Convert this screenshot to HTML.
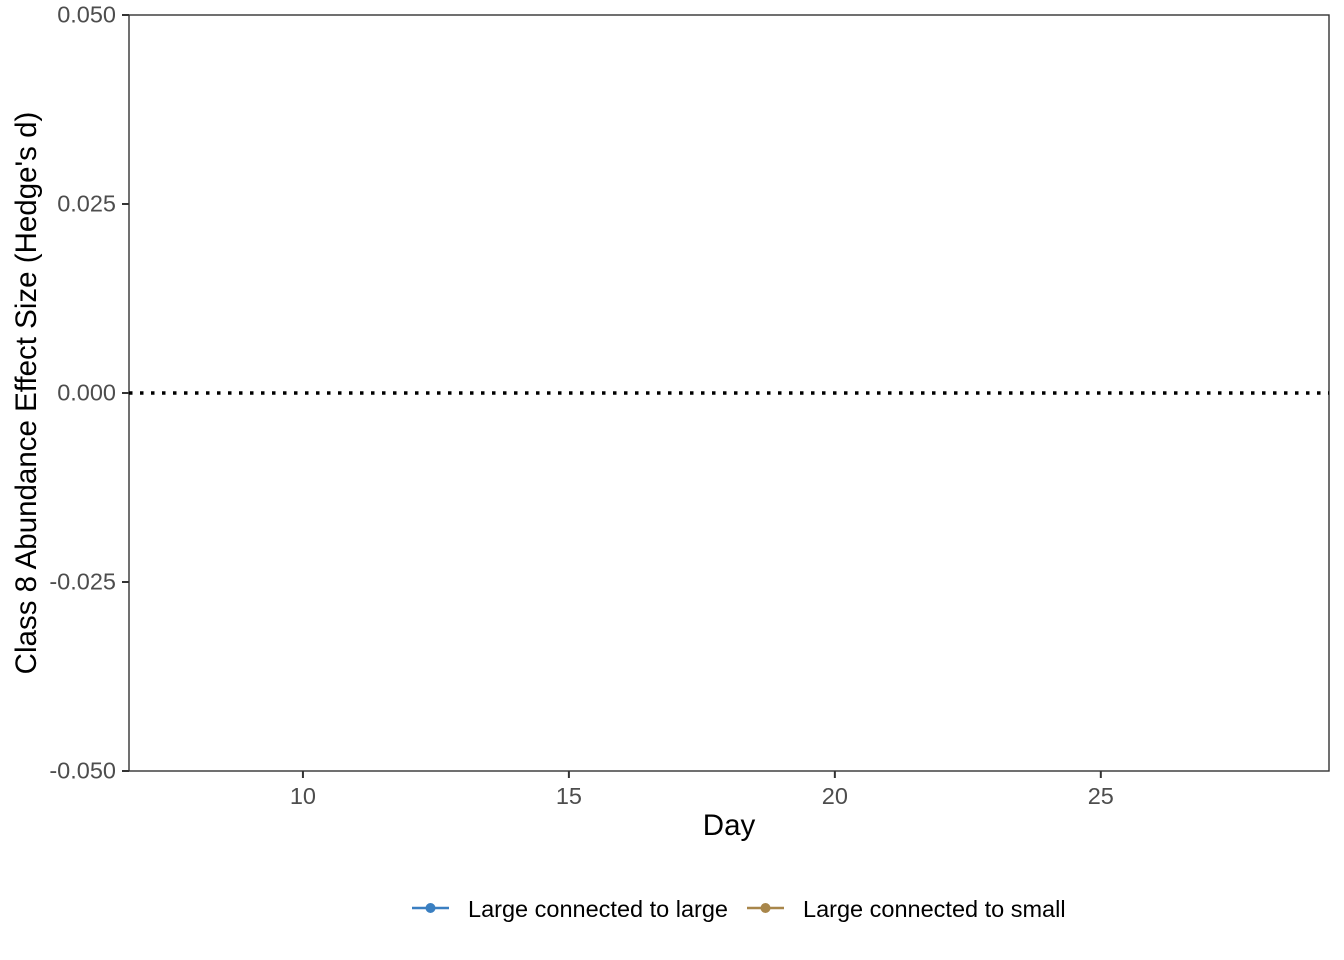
<!DOCTYPE html>
<html><head><meta charset="utf-8"><style>
html,body{margin:0;padding:0;background:#fff;}
svg{display:block;font-family:"Liberation Sans",Arial,sans-serif;}
</style></head><body>
<svg id="chart" width="1344" height="960" viewBox="0 0 1344 960">
<rect x="0" y="0" width="1344" height="960" fill="#fff"/>
<g id="plot"></g>
</svg>
<script>
const xTicks = [10, 15, 20, 25];
const yTicks = [0.05, 0.025, 0, -0.025, -0.05];
const yTickLabels = ["0.050", "0.025", "0.000", "-0.025", "-0.050"];
const refLineValues = [0];
const seriesNames = ["Large connected to large", "Large connected to small"];
const seriesColors = ["#3a7fc1", "#a8864a"];
const daysLL = [];
const valuesLL = [];
const daysLS = [];
const valuesLS = [];

const L = 129, R = 1329, T = 15, B = 771;
const xMin = 6.73, xMax = 29.29, yMin = -0.05, yMax = 0.05;
const sx = v => L + (v - xMin) / (xMax - xMin) * (R - L);
const sy = v => B - (v - yMin) / (yMax - yMin) * (B - T);
const NS = "http://www.w3.org/2000/svg";
const g = document.getElementById('plot');
function mk(tag, attrs, parent) {
  const e = document.createElementNS(NS, tag);
  for (const k in attrs) e.setAttribute(k, attrs[k]);
  (parent || g).appendChild(e);
  return e;
}

const panel = mk('rect', {x: L, y: T, width: R - L, height: B - T, fill: 'none', stroke: '#333', 'stroke-width': 1.4});



refLineValues.forEach(v => {
  const l = mk('line', {x1: L, x2: R, y1: sy(v), y2: sy(v), stroke: '#000', 'stroke-width': 3.5, 'stroke-dasharray': '3.5 7.5'});
  
  
});

[[daysLL, valuesLL], [daysLS, valuesLS]].forEach((s, i) => {
  const [xs, ys] = s;
  if (xs.length > 1) {
    const p = mk('polyline', {points: xs.map((d, j) => sx(d) + ',' + sy(ys[j])).join(' '), fill: 'none', stroke: seriesColors[i], 'stroke-width': 2});
    
    
  }
  xs.forEach((d, j) => {
    const c = mk('circle', {cx: sx(d), cy: sy(ys[j]), r: 4.5, fill: seriesColors[i]});
    
    
  });
});

yTicks.forEach((v, i) => {
  const t = mk('line', {x1: L - 7, x2: L, y1: sy(v), y2: sy(v), stroke: '#333', 'stroke-width': 2});
  
  
  const tx = mk('text', {x: L - 13, y: sy(v) + 7.5, 'text-anchor': 'end', 'font-size': 23.5, fill: '#4d4d4d'});
  tx.textContent = yTickLabels[i];
  
  
});
xTicks.forEach(v => {
  const t = mk('line', {x1: sx(v), x2: sx(v), y1: B, y2: B + 7, stroke: '#333', 'stroke-width': 2});
  
  
  const tx = mk('text', {x: sx(v), y: B + 33, 'text-anchor': 'middle', 'font-size': 23.5, fill: '#4d4d4d'});
  tx.textContent = v;
  
  
});

const xt = mk('text', {x: (L + R) / 2, y: 835, 'text-anchor': 'middle', 'font-size': 29.5, fill: '#000'});
xt.textContent = 'Day';


const yt = mk('text', {x: 0, y: 0, 'text-anchor': 'middle', 'font-size': 29.5, fill: '#000', transform: 'translate(36,' + (T + B) / 2 + ') rotate(-90)'});
yt.textContent = "Class 8 Abundance Effect Size (Hedge's d)";



const legX = [412, 747];
seriesNames.forEach((n, i) => {
  const lg = mk('g', {});
  
  
  mk('line', {x1: legX[i], x2: legX[i] + 37, y1: 908, y2: 908, stroke: seriesColors[i], 'stroke-width': 2.5}, lg);
  mk('circle', {cx: legX[i] + 18.5, cy: 908, r: 5, fill: seriesColors[i]}, lg);
  const tx = mk('text', {x: legX[i] + 56, y: 917, 'font-size': 23.5, fill: '#000'}, lg);
  tx.textContent = n;
});
</script>
</body></html>
